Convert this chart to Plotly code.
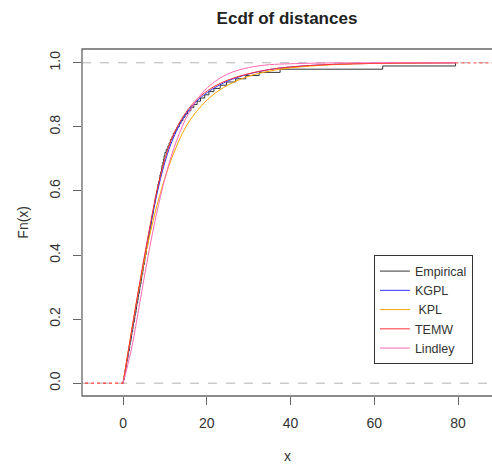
import numpy as np
import plotly.graph_objects as go

# sorted distances behind the empirical cdf
distances = [
    0.1, 0.3, 0.4, 0.5, 0.7, 0.8, 0.9, 1.1, 1.2, 1.3,
    1.5, 1.6, 1.7, 1.9, 2.0, 2.1, 2.3, 2.4, 2.5, 2.7,
    2.8, 2.9, 3.1, 3.2, 3.3, 3.5, 3.6, 3.7, 3.9, 4.0,
    4.1, 4.3, 4.4, 4.5, 4.7, 4.8, 4.9, 5.1, 5.2, 5.3,
    5.5, 5.6, 5.7, 5.9, 6.0, 6.1, 6.3, 6.4, 6.5, 6.7,
    6.8, 6.9, 7.1, 7.2, 7.3, 7.5, 7.6, 7.7, 7.9, 8.0,
    8.2, 8.3, 8.5, 8.7, 8.8, 9.0, 9.2, 9.3, 9.5, 9.7,
    9.8, 10.0, 10.3, 10.7, 11.0, 11.3, 11.7, 12.0, 12.5, 12.9,
    13.4, 13.8, 14.3, 14.8, 15.4, 16.2, 16.9, 17.7, 18.5, 19.5,
    20.5, 21.7, 23.2, 24.7, 26.9, 29.3, 32.5, 37.5, 62.0, 79.4,
]

# fitted cdfs
grid = [0, 2, 4, 6, 8, 10, 12, 15, 18, 21, 25, 30, 35, 40, 50, 60, 70, 79.4]
kgpl = [0, 0.155, 0.31, 0.455, 0.585, 0.69, 0.765, 0.84, 0.885, 0.915,
        0.943, 0.965, 0.979, 0.987, 0.995, 0.998, 0.999, 1.0]
kpl = [0, 0.16, 0.31, 0.44, 0.55, 0.64, 0.715, 0.80, 0.855, 0.895,
       0.93, 0.958, 0.974, 0.984, 0.994, 0.998, 0.999, 1.0]
temw = [0, 0.16, 0.315, 0.46, 0.595, 0.70, 0.775, 0.845, 0.89, 0.92,
        0.946, 0.966, 0.979, 0.987, 0.995, 0.998, 0.9995, 1.0]
lindley = [0, 0.106, 0.251, 0.398, 0.529, 0.639, 0.728, 0.826, 0.891, 0.932,
           0.965, 0.985, 0.994, 0.997, 0.9996, 1.0, 1.0, 1.0]

x_range = [-9.8, 88.1]
y_range = [-0.04, 1.043]

n = len(distances)
ecdf_x = [distances[0]] + distances
ecdf_y = [0] + list(np.arange(1, n + 1) / n)

fig = go.Figure()

fig.add_hline(y=0, line=dict(color="#b3b3b3", width=1, dash="dash"), layer="below")
fig.add_hline(y=1, line=dict(color="#b3b3b3", width=1, dash="dash"), layer="below")

fig.add_trace(go.Scatter(x=ecdf_x, y=ecdf_y, mode="lines", name="Empirical",
                         line=dict(color="#333333", width=1, shape="hv")))
fig.add_trace(go.Scatter(x=grid, y=kgpl, mode="lines", name="KGPL",
                         line=dict(color="#3333ff", width=1, shape="spline")))
fig.add_trace(go.Scatter(x=grid, y=kpl, mode="lines", name="\u00a0KPL",
                         line=dict(color="#ffa500", width=1, shape="spline")))
fig.add_trace(go.Scatter(x=grid, y=temw, mode="lines", name="TEMW",
                         line=dict(color="#ff3333", width=1, shape="spline")))
fig.add_trace(go.Scatter(x=grid, y=lindley, mode="lines", name="Lindley",
                         line=dict(color="#ff69b4", width=1, shape="spline")))

# dashed extensions of the step function beyond the data
fig.add_trace(go.Scatter(x=[x_range[0] - 5, distances[0]], y=[0, 0], mode="lines",
                         line=dict(color="#ff3333", width=1.2, dash="dot"),
                         showlegend=False, hoverinfo="skip"))
fig.add_trace(go.Scatter(x=[distances[-1], x_range[1] + 5], y=[1, 1], mode="lines",
                         line=dict(color="#ff6666", width=1.2, dash="dot"),
                         showlegend=False, hoverinfo="skip"))

# plot box (right side falls outside the picture)
fig.add_shape(type="rect", xref="paper", yref="paper", x0=0, x1=1.05, y0=0, y1=1,
              line=dict(color="#666666", width=1.3))

axis_font = dict(family="Liberation Sans, Arial", size=14, color="#333333")

fig.update_xaxes(range=x_range, tickvals=[0, 20, 40, 60, 80], ticks="outside",
                 ticklen=8, tickcolor="#666666", ticklabelstandoff=6,
                 showgrid=False, zeroline=False, showline=False, automargin=False,
                 tickfont=axis_font)
fig.update_yaxes(range=y_range, tickvals=[0, 0.2, 0.4, 0.6, 0.8, 1.0],
                 ticktext=["0.0", "0.2", "0.4", "0.6", "0.8", "1.0"],
                 tickangle=-90, ticks="outside", ticklen=8, tickcolor="#666666",
                 ticklabelstandoff=7, showgrid=False, zeroline=False, showline=False,
                 automargin=False, tickfont=axis_font)

# axis titles placed like R's mtext lines
fig.add_annotation(text="x", xref="paper", yref="paper", x=0.5, y=-0.172,
                   xanchor="center", yanchor="middle", showarrow=False, font=axis_font)
fig.add_annotation(text="Fn(x)", xref="paper", yref="paper", x=-0.146, y=0.5,
                   textangle=-90, xanchor="center", yanchor="middle",
                   showarrow=False, font=axis_font)

fig.update_layout(
    width=492, height=465,
    margin=dict(l=82, r=0, t=49, b=69),
    plot_bgcolor="white", paper_bgcolor="white",
    title=dict(text="<b>Ecdf of distances</b>", x=0.5, xref="paper", xanchor="center",
               y=0.962, yref="container", yanchor="middle",
               font=dict(family="Liberation Sans, Arial", size=17, color="#222222")),
    legend=dict(x=0.712, y=0.405, xanchor="left", yanchor="top",
                bordercolor="#333333", borderwidth=1, bgcolor="white",
                font=dict(family="Liberation Sans, Arial", size=12.5, color="#333333")),
    showlegend=True,
)

# drop the default page margin so the figure sits at the window corner
fig.write_html("out.html", config={"displayModeBar": False},
               post_script="document.body.style.margin = '0';")
